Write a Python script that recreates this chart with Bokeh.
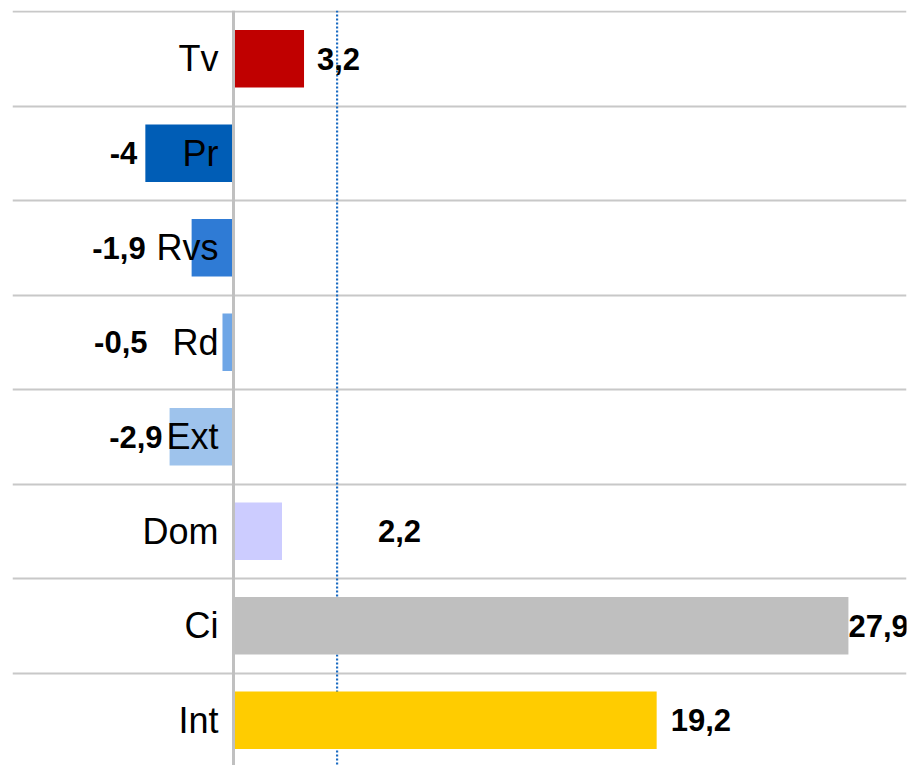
from bokeh.plotting import figure
from bokeh.models import ColumnDataSource, Range1d, FixedTicker, Span, LabelSet
from bokeh.core.properties import value
from bokeh.embed import file_html
from bokeh.resources import INLINE

# ---- data ----
categories = ["Tv", "Pr", "Rvs", "Rd", "Ext", "Dom", "Ci", "Int"]
values = [3.2, -4.0, -1.9, -0.5, -2.9, 2.2, 27.9, 19.2]
reference_line = 4.7

# ---- styles ----
colors = ["#C00000", "#005DB6", "#2F7BD5", "#6FA6E6", "#9EC3EC", "#CCCCFF", "#BFBFBF", "#FFCC00"]
label_dx = [13, -8, -46, -75, -7, 96, 0, 14]

def fmt(v):
    s = ("%d" % v) if float(v).is_integer() else ("%.1f" % v)
    return s.replace(".", ",")

idx = list(range(len(categories)))
src = ColumnDataSource(dict(
    y=idx,
    cat=categories,
    val=values,
    color=colors,
    lab=[fmt(v) for v in values],
    dx=label_dx,
    align=["left" if v > 0 else "right" for v in values],
))

W, H = 914, 765
top_b, left_b, right_b = 10, 12, 8
band_px = 94.5
px_per_unit = 22.04
zero_px = 233
frame_w = W - left_b - right_b
frame_h = H - top_b
y_top = -0.5 - 1.0 / band_px
y_bottom = y_top + frame_h / band_px
x_start = -(zero_px - left_b) / px_per_unit
x_end = x_start + frame_w / px_per_unit

p = figure(width=W, height=H, output_backend="svg", toolbar_location=None,
           x_range=Range1d(x_start, x_end), y_range=Range1d(y_bottom, y_top),
           min_border_left=left_b, min_border_right=right_b, min_border_top=top_b,
           min_border_bottom=0)
p.xaxis.visible = False
p.yaxis.visible = False
p.xgrid.visible = False
p.outline_line_color = None
p.background_fill_color = "white"
p.border_fill_color = "white"

p.ygrid.ticker = FixedTicker(ticks=[i - 0.5 for i in range(len(categories))])
p.ygrid.grid_line_color = "#C8C8C8"
p.ygrid.grid_line_width = 2

dotted = Span(location=reference_line, dimension="height", line_color="#1A6BC2",
              line_width=2.2, line_dash="2 2", level="underlay")
p.add_layout(dotted)

p.hbar(y="y", left=0, right="val", height=0.61, fill_color="color", line_color=None, source=src)

zero = Span(location=0, dimension="height", line_color="#C0C0C0", line_width=3)
p.add_layout(zero)

p.text(x=0, y="y", text="cat", x_offset=-15, text_align="right", text_baseline="middle",
       text_font=value("Liberation Sans"), text_font_size="36px", text_color="black", source=src)

labels = LabelSet(x="val", y="y", text="lab", x_offset="dx", text_align="align",
                  text_baseline="middle", text_font=value("Liberation Sans"),
                  text_font_size="31px", text_font_style="bold", text_color="black", source=src)
p.add_layout(labels)

open("out.html", "w").write(file_html(p, INLINE))
